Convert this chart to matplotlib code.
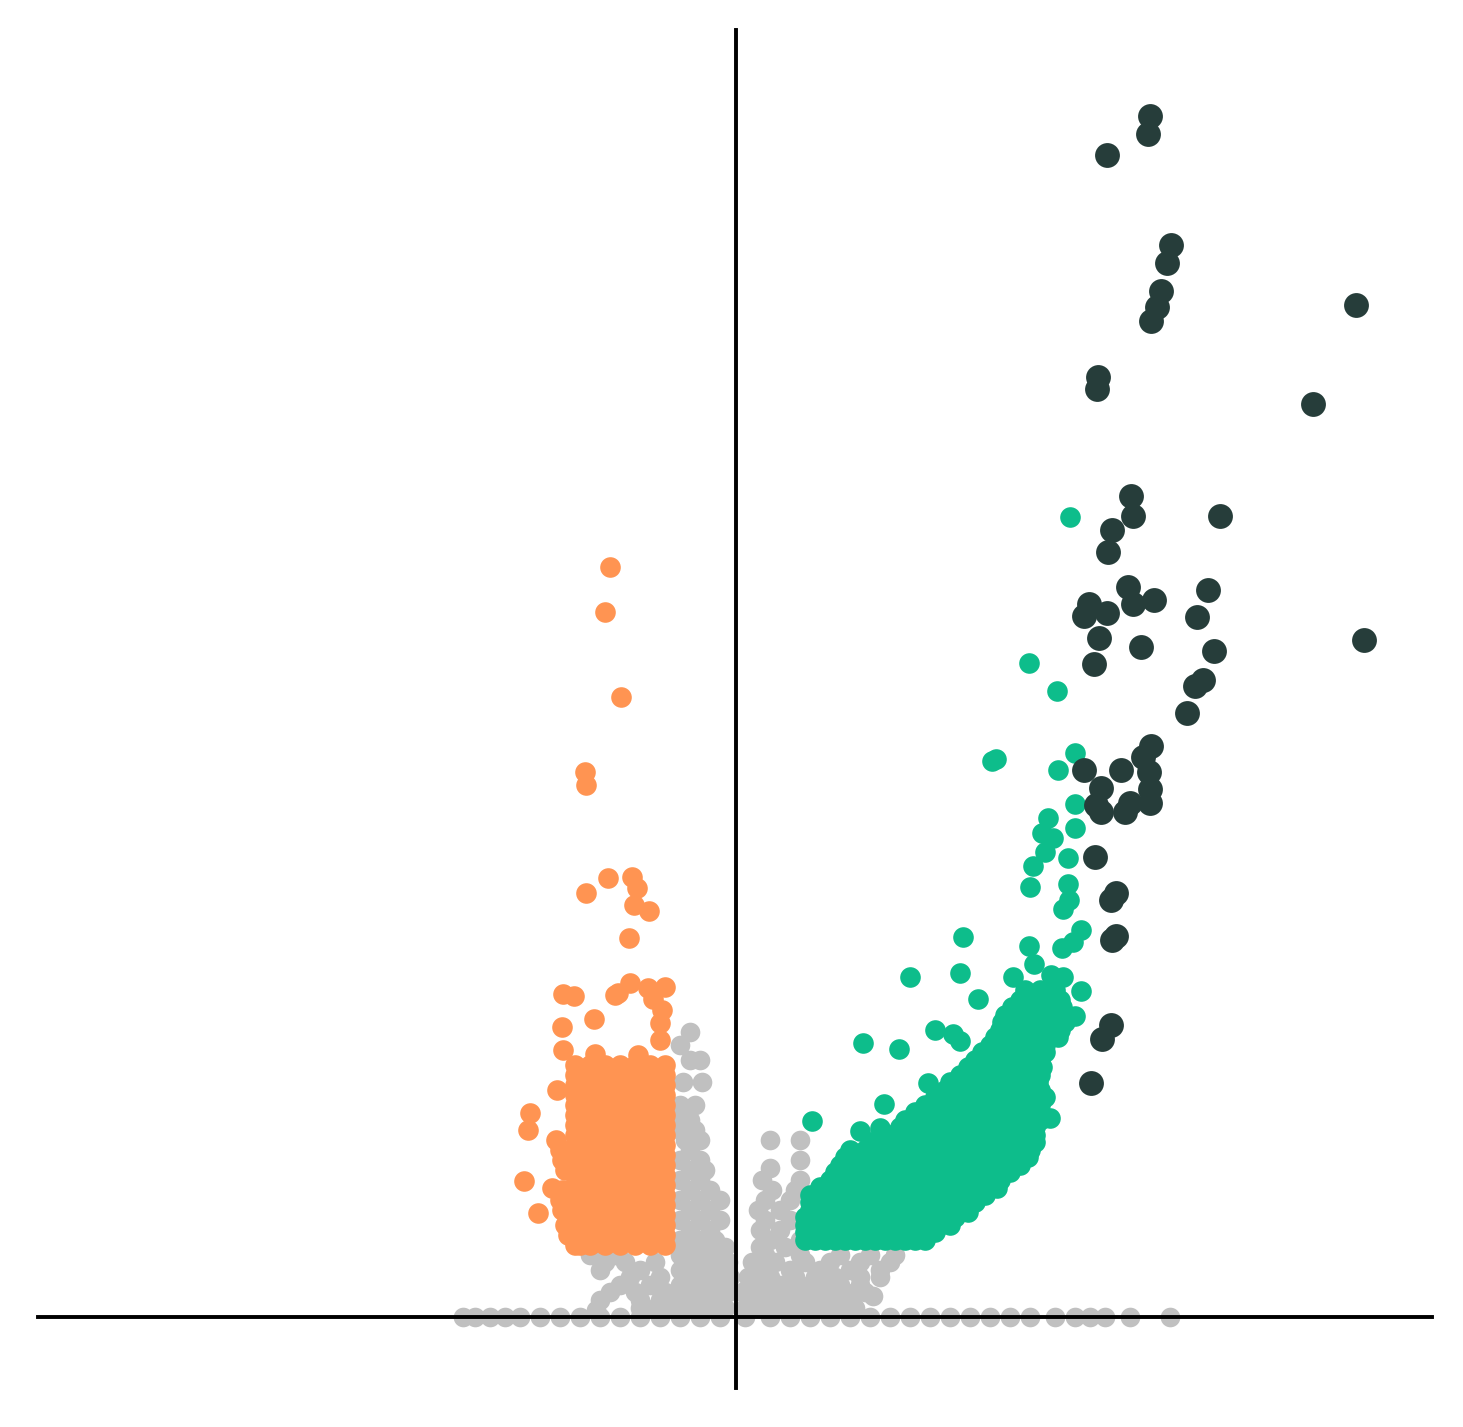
import numpy as np
import matplotlib.pyplot as plt

# values (raw readings, converted to log2FC / -log10 p below)
x0, y0, scale = 736, 1317, 100.0

def conv(pts):
    a = np.array(pts, dtype=float)
    return (a[:, 0] - x0) / scale, (y0 - a[:, 1]) / scale

def rows(spec):
    out = []
    for y, xs in spec:
        out += [(x, y) for x in xs]
    return out

grey_pts = rows([
    (1317, [463, 475, 490, 505, 520, 540, 560, 580, 600, 620, 640, 660, 680, 700, 720, 745, 770, 790, 810, 830,
            850, 870, 890, 910, 930, 950, 970, 990, 1010, 1030, 1055, 1075, 1090, 1105, 1130, 1170]),
    (1308, [640, 655, 670, 690, 710, 725, 745, 760, 780, 800, 820, 840, 855]),
    (1300, [600, 640, 660, 680, 700, 720, 750, 770, 790, 810, 830, 850]),
    (1292, [610, 635, 665, 690, 710, 728, 742, 765, 785, 805, 825, 845, 865]),
    (1285, [620, 650, 680, 700, 720, 755, 780, 800, 820, 840, 860]),
    (1277, [630, 660, 690, 710, 730, 748, 770, 795, 815, 835, 860, 880]),
    (1270, [600, 640, 680, 700, 720, 760, 790, 820, 850, 880]),
    (1262, [605, 625, 655, 690, 710, 728, 752, 775, 805, 830, 860, 890]),
    (1255, [590, 615, 680, 700, 720, 765, 800, 840, 870, 895]),
    (1247, [685, 705, 725, 760, 785]),
    (1240, [680, 700, 715, 770, 800]),
    (1230, [690, 710, 760, 780]),
    (1220, [680, 700, 720, 765, 790]),
    (1210, [690, 710, 758, 780]),
    (1200, [680, 700, 720, 765, 790]),
    (1190, [690, 710, 772, 795]),
    (1180, [680, 700, 762, 800]),
    (1170, [690, 705]),
    (1160, [680, 700, 800]),
    (1150, [690]),
    (1140, [685, 700, 770, 800]),
    (1130, [680, 695]),
    (1120, [680, 690]),
    (1105, [695, 680]),
    (1082, [683, 702]),
    (1060, [690, 700]),
    (1045, [680]),
    (1032, [690]),
    (1168, [770]),
]) + [(873, 1296), (596, 1310)]

orange_pts = [(610, 567), (605, 612), (621, 697), (585, 772), (586, 785), (608, 878), (632, 877), (637, 888),
              (586, 893), (634, 905), (649, 911), (629, 938), (630, 983), (563, 994), (574, 996), (618, 993),
              (648, 988), (665, 987), (653, 999), (594, 1019), (562, 1027), (660, 1023), (563, 1050), (595, 1054),
              (638, 1055), (530, 1113), (528, 1130), (524, 1181), (538, 1213), (552, 1188), (557, 1090), (556, 1140),
              (660, 1040), (662, 1010), (615, 995)]
orange_pts += rows([(y, [575, 590, 605, 620, 635, 650, 665]) for y in
                    (1065, 1075, 1085, 1095, 1105, 1115, 1125, 1135, 1145, 1155, 1165, 1175, 1185, 1195,
                     1205, 1215, 1225, 1235, 1245)])
orange_pts += rows([(1150, [560]), (1170, [565]), (1200, [560]), (1225, [565]), (1245, [580]), (1080, [585]),
                    (1160, [562]), (1190, [562]), (1210, [562]), (1235, [568])])

green_pts = [(1070, 517), (1029, 663), (1057, 691), (992, 761), (996, 759), (1075, 753), (1058, 770), (1075, 804),
             (1048, 818), (1042, 833), (1053, 838), (1045, 852), (1075, 828), (1068, 858), (1033, 866), (1030, 887),
             (1068, 884), (1063, 909), (1069, 900), (1081, 930), (1073, 942), (1062, 948), (1029, 946), (963, 937),
             (910, 977), (960, 973), (1034, 964), (1013, 977), (1051, 975), (1063, 977), (1081, 991), (978, 999),
             (1030, 996), (863, 1043), (899, 1049), (935, 1030), (953, 1034), (960, 1041), (1075, 1016), (884, 1104),
             (928, 1083), (1050, 1118), (968, 1212), (997, 1188), (812, 1121), (860, 1131), (880, 1128)]
green_pts += rows([
    (1240, [805, 815, 825, 835, 845, 855, 865, 875, 885, 895, 905, 915, 925]),
    (1232, [805, 815, 825, 835, 845, 855, 865, 875, 885, 895, 905, 915, 925, 935]),
    (1225, [805, 818, 830, 840, 850, 860, 870, 880, 890, 900, 910, 920, 930, 940, 950]),
    (1217, [805, 818, 830, 842, 855, 868, 880, 893, 905, 918, 930, 942, 955]),
    (1210, [810, 822, 835, 848, 860, 872, 885, 895, 905, 915, 925, 935, 945, 955, 965]),
    (1202, [810, 825, 840, 852, 865, 878, 890, 903, 915, 928, 940, 952, 965, 975]),
    (1195, [810, 825, 840, 852, 865, 878, 890, 903, 915, 928, 940, 950, 960, 972, 985]),
    (1187, [820, 835, 848, 860, 872, 885, 898, 910, 922, 935, 948, 960, 972, 985]),
    (1180, [830, 842, 855, 868, 880, 893, 905, 918, 930, 942, 955, 965, 975, 988, 1000]),
    (1172, [835, 850, 862, 875, 888, 900, 912, 925, 938, 950, 962, 975, 988, 1000, 1010]),
    (1165, [840, 855, 870, 885, 900, 912, 925, 938, 950, 962, 975, 988, 1000, 1010, 1020]),
    (1157, [845, 860, 875, 890, 905, 918, 930, 942, 955, 968, 980, 992, 1005, 1018, 1028]),
    (1150, [850, 865, 880, 892, 905, 920, 935, 948, 960, 972, 985, 998, 1010, 1020, 1030]),
    (1142, [870, 885, 900, 912, 925, 938, 950, 962, 975, 988, 1000, 1012, 1025, 1035]),
    (1135, [890, 902, 915, 928, 940, 952, 965, 978, 990, 1002, 1015, 1025, 1035]),
    (1127, [900, 912, 925, 938, 950, 962, 975, 988, 1000, 1012, 1025, 1035]),
    (1120, [905, 918, 930, 942, 955, 968, 980, 992, 1005, 1015, 1025, 1040]),
    (1112, [915, 928, 940, 952, 965, 978, 990, 1002, 1015, 1028, 1040]),
    (1105, [925, 938, 950, 962, 975, 988, 1000, 1010, 1020, 1030, 1040]),
    (1097, [935, 948, 960, 972, 985, 998, 1010, 1022, 1035, 1045]),
    (1090, [945, 955, 965, 978, 990, 1000, 1010, 1020, 1030, 1040]),
    (1082, [950, 962, 975, 988, 1000, 1012, 1025, 1038]),
    (1075, [960, 972, 985, 995, 1005, 1015, 1025, 1040]),
    (1067, [968, 980, 992, 1005, 1018, 1030, 1042]),
    (1060, [975, 988, 1000, 1010, 1020, 1030, 1040]),
    (1052, [982, 995, 1008, 1020, 1032, 1045]),
    (1045, [990, 1000, 1010, 1020, 1030, 1045]),
    (1037, [995, 1008, 1020, 1032, 1045, 1058]),
    (1030, [1000, 1010, 1020, 1030, 1040, 1050, 1060]),
    (1022, [1002, 1015, 1028, 1040, 1052, 1065]),
    (1015, [1005, 1015, 1025, 1035, 1045, 1055, 1065]),
    (1007, [1012, 1025, 1038, 1050, 1062]),
    (1000, [1020, 1032, 1045, 1060]),
    (990, [1025, 1040, 1055]),
])

dark_pts = [(1150, 116), (1148, 134), (1107, 155), (1171, 245), (1167, 263), (1161, 291), (1157, 307), (1151, 321),
            (1356, 305), (1098, 377), (1097, 389), (1313, 404), (1131, 496), (1133, 516), (1112, 530), (1108, 552),
            (1220, 516), (1128, 587), (1208, 590), (1089, 604), (1084, 616), (1107, 613), (1133, 604), (1154, 600),
            (1197, 617), (1099, 638), (1141, 647), (1214, 651), (1094, 664), (1364, 640), (1203, 680), (1195, 686),
            (1187, 713), (1151, 746), (1143, 757), (1121, 770), (1084, 770), (1149, 772), (1101, 788), (1150, 789),
            (1096, 805), (1130, 803), (1101, 812), (1125, 812), (1150, 803), (1095, 857), (1116, 893), (1111, 900),
            (1116, 936), (1112, 940), (1111, 1025), (1102, 1039), (1091, 1083)]

fig = plt.figure(figsize=(14.63, 14.27), dpi=100)
ax = fig.add_axes([38 / 1463, 39 / 1427, 1394 / 1463, 1358 / 1427])

for pts, col, s in [(grey_pts, '#c0c0c0', 200), (orange_pts, '#ff9452', 220),
                    (green_pts, '#0dbd8b', 220), (dark_pts, '#263d3a', 320)]:
    x, y = conv(pts)
    ax.scatter(x, y, s=s, c=col, linewidths=0, zorder=2)

ax.set_xlim(-6.98, 6.96)
ax.set_ylim(-0.71, 12.87)
for side in ['top', 'right']:
    ax.spines[side].set_visible(False)
ax.spines['left'].set_position(('data', 0))
ax.spines['bottom'].set_position(('data', 0))
for side in ['left', 'bottom']:
    ax.spines[side].set_linewidth(2.8)
    ax.spines[side].set_zorder(3)
ax.set_xticks([])
ax.set_yticks([])

fig.savefig('out.png', dpi=100)
